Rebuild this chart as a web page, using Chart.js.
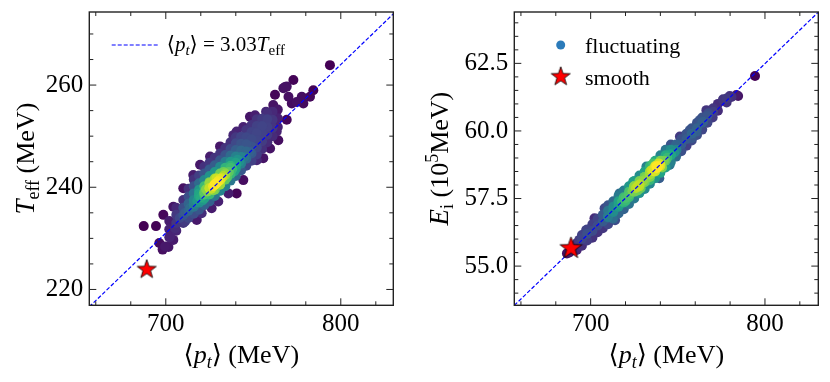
<!DOCTYPE html>
<html>
<head>
<meta charset="utf-8"/>
<title>pt vs Teff / Ei</title>
<script src="https://cdn.jsdelivr.net/npm/chart.js"></script>
<style>
    html, body { margin: 0; padding: 0; background: #fff; }
    #wrap { position: relative; width: 830px; height: 382px; }
    canvas { position: absolute; top: 0; }
    #left { left: 0; }
    #right { left: 415px; }
</style>
</head>
<body>
<div id="wrap">
    <canvas id="left" width="415" height="382"></canvas>
    <canvas id="right" width="415" height="382"></canvas>
</div>
<script>
// ---- data ----
const ptRangeLeft = [656.3, 830];
const teffRange = [216.9, 274.3];
const ptRangeRight = [656.2, 830.6];
const eiRange = [53.55, 64.4];

const leftXMajor = [700, 800];
const leftXMinor = [660, 680, 720, 740, 760, 780, 820];
const leftYMajor = [220, 240, 260];
const leftYMinor = [225, 230, 235, 245, 250, 255, 265, 270];
const rightXMajor = [700, 800];
const rightXMinor = [660, 680, 720, 740, 760, 780, 820];
const rightYMajor = [55, 57.5, 60, 62.5];
const rightYMinor = [54, 54.5, 55.5, 56, 56.5, 57, 58, 58.5, 59, 59.5, 60.5, 61, 61.5, 62, 63, 63.5, 64];

const slopeTeff = 3.03;            // <pt> = 3.03 Teff
const eiLine = [0.0622, 12.73];    // Ei = a*pt + b (dashed guide, right)

const smoothLeft = [689.1, 223.9];
const smoothRight = [688.7, 55.66];

// fluctuating events, left panel (<pt>, Teff)
const leftEdge = [
    [687.4,232.4],[694.4,232.4],[696.3,229.1],[698.6,234.6],[699.6,228.4],[698.2,227.8],[701.5,228.3],
    [702.4,230.3],[704.3,229.7],[704.3,236.2],[705.3,232],[710,239.8],[711,233.3],[715.7,242.4],
    [717.7,233.6],[719.6,244.4],[720.5,234.9],[725.3,246],[726.2,235.9],[730,237.2],[731,248],
    [735.8,238.8],[738.6,250.2],[740.5,238.8],[740.5,250.9],[744.3,241.4],[744.3,251.8],[748.1,253.8],
    [751,254.1],[752,245.3],[755.7,245.7],[757.3,254.8],[759.6,247.6],[761.4,256.1],[762.4,258.1],
    [763.4,250.9],[764.3,249.2],[767.2,259.4],[768.1,259.6],[769.1,259.7],[769.1,253.2],[770.1,257.7],
    [772,256.4],[772.9,261],[774.8,256.7],[777.7,257.7],[778.6,256.4],[782.4,257.7],[784.3,259],[793.8,263.9]
];
const leftBody = [
    [702,230.2],[702,231.8],[702,233.4],
    [706,231.5],[706,233],[706,234.6],[706,236],
    [710,233],[710,234.5],[710,236],[710,237.5],
    [713,234],[713,235.4],[713,236.8],[713,238.2],[713,239.7],
    [716,234.8],[716,236.2],[716,237.5],[716,238.8],[716,240.2],[716,241.5],
    [719,235.6],[719,237],[719,238.3],[719,239.5],[719,240.8],[719,242.3],
    [722,236.5],[722,237.8],[722,239],[722,240.2],[722,241.4],[722,242.7],[722,244],
    [725,237.2],[725,238.6],[725,239.8],[725,241],[725,242.2],[725,243.5],[725,244.8],
    [728,238.3],[728,239.5],[728,240.6],[728,241.7],[728,243],[728,244.3],[728,245.8],
    [731,239.3],[731,240.5],[731,241.6],[731,242.7],[731,244],[731,245.3],[731,246.6],
    [734,240.2],[734,241.5],[734,242.7],[734,243.8],[734,245],[734,246.3],[734,247.7],
    [737,241.3],[737,242.6],[737,243.8],[737,245],[737,246.2],[737,247.5],[737,248.8],
    [740,242.2],[740,243.6],[740,244.8],[740,246],[740,247.3],[740,248.6],[740,249.8],
    [743,243.3],[743,244.6],[743,245.9],[743,247.2],[743,248.5],[743,249.9],
    [746,244.2],[746,245.6],[746,247],[746,248.4],[746,249.8],[746,251.2],
    [749,245.2],[749,246.6],[749,248],[749,249.4],[749,250.8],[749,252.2],
    [752,246.4],[752,247.8],[752,249.2],[752,250.6],[752,252],[752,253.3],
    [755,247.5],[755,249],[755,250.5],[755,252],[755,253.4],
    [758,248.8],[758,250.3],[758,251.8],[758,253.3],[758,254.5],
    [761,250],[761,251.6],[761,253.2],[761,254.8],
    [764,251.8],[764,253.5],[764,255.2]
];
const leftCore = [
    [708,234.0],[711,235.0],[714,236.0],[716,236.7],[718,237.3],[720,238.0],[722,238.6],[724,239.2],
    [725,239.8],[726,239.7],[727,240.2],[728,240.5],[729,240.8],[730,241.2],[731,241.4],[732,241.8],
    [733,242.2],[734,242.4],[736,243.0],[738,243.6],[740,244.3],[742,245.0],[745,245.9],[748,246.9],
    [719,238.8],[721,237.4],[723,239.6],[725,240.8],[727,239.4],[729,241.7],[731,240.6],[733,243.0],
    [735,241.9],[737,244.2],[739,243.1],[741,245.4]
];

// fluctuating events, right panel (<pt>, Ei in 1e5 MeV)
const rightEdge = [
    [686.4,55.47],[687.8,55.5],[690.5,55.6],[693.5,55.97],[697.4,56.33],[702.2,56.77],[708,57.14],
    [712.5,56.77],[714,56.7],[716.6,57.69],[720.1,57.44],[724.4,58.12],[728.7,57.88],[732,58.68],
    [733.9,58.18],[735.9,58.8],[737.8,58.68],[739.4,58.25],[743.5,59.29],[745.3,58.74],[749.2,59.29],
    [751.2,59.79],[756.9,60.03],[757.9,59.73],[760.7,59.97],[762.6,60.4],[764.5,60.34],[766.4,60.77],
    [767.4,60.65],[770.3,60.84],[770.3,60.71],[776,61.14],[776,61.17],[779.8,61.29],[780.8,61.26],
    [783.6,61.33],[784.6,61.29],[794.3,62.03]
];
const rightBody = [
    [692,55.6],[692,55.85],
    [695,55.75],[695,56.0],[695,56.15],
    [698,55.95],[698,56.2],[698,56.35],
    [701,56.05],[701,56.3],[701,56.55],
    [704,56.25],[704,56.5],[704,56.75],
    [707,56.4],[707,56.65],[707,56.9],
    [710,56.55],[710,56.8],[710,57.05],[710,57.25],
    [713,56.75],[713,57.0],[713,57.2],[713,57.4],
    [716,56.95],[716,57.2],[716,57.4],[716,57.6],
    [719,57.1],[719,57.35],[719,57.55],[719,57.8],
    [722,57.3],[722,57.55],[722,57.75],[722,57.95],
    [725,57.5],[725,57.75],[725,57.95],[725,58.15],
    [728,57.7],[728,57.95],[728,58.15],[728,58.35],
    [731,57.85],[731,58.1],[731,58.3],[731,58.5],
    [734,58.05],[734,58.3],[734,58.5],[734,58.7],
    [737,58.25],[737,58.5],[737,58.7],[737,58.9],
    [740,58.45],[740,58.7],[740,58.9],[740,59.1],
    [743,58.65],[743,58.9],[743,59.1],[743,59.3],
    [746,58.85],[746,59.1],[746,59.3],[746,59.5],
    [749,59.05],[749,59.3],[749,59.5],
    [752,59.25],[752,59.5],[752,59.7],
    [755,59.45],[755,59.7],[755,59.9],
    [758,59.65],[758,59.9],[758,60.1],
    [761,59.85],[761,60.1],[761,60.3],
    [764,60.05],[764,60.3],[764,60.5],
    [767,60.3],[767,60.55],
    [770,60.5],
    [773,60.75],[773,61.0],
    [778,61.05],[778,61.2]
];
const rightCore = [
    [716,57.27],[718,57.39],[720,57.52],[722,57.64],[724,57.77],[726,57.89],[727,57.95],[728,58.02],
    [730,58.14],[732,58.26],[734,58.39],[736,58.51],[738,58.63],[739,58.7],[740,58.76],[742,58.89],
    [744,59.01],[746,59.14],[725,57.95],[727,57.8],[739,58.8],[741,58.65],[720,57.4],[735,58.55],
    [731,58.3],[748,59.2],[713,57.05],[710,56.85]
];

// ---- styling helpers ----
const SERIF = '"Liberation Serif", "DejaVu Serif", serif';
const fnt = (size, italic) => (italic ? 'italic ' : '') + size + 'px ' + SERIF;
const VIR = ['#440154','#482475','#414487','#355f8d','#2a788e','#21918c','#22a884','#44bf70','#7ad151','#bddf26','#fde725'];

function hexRgb(h) {
    return [parseInt(h.slice(1, 3), 16), parseInt(h.slice(3, 5), 16), parseInt(h.slice(5, 7), 16)];
}
function viridis(t) {
    t = Math.max(0, Math.min(1, t));
    const i = Math.min(9, Math.floor(t * 10));
    const u = t * 10 - i;
    const a = hexRgb(VIR[i]), b = hexRgb(VIR[i + 1]);
    return 'rgb(' + a.map((v, k) => Math.round(v + (b[k] - v) * u)).join(',') + ')';
}

// gaussian kde in pixel space -> colour + draw order (densest last)
function densityOrder(points, sx, sy, bw) {
    const d = points.map(p => points.reduce((s, q) => {
        const dx = (p[0] - q[0]) * sx, dy = (p[1] - q[1]) * sy;
        return s + Math.exp(-(dx * dx + dy * dy) / (2 * bw * bw));
    }, 0));
    const lo = Math.min(...d), hi = Math.max(...d);
    const idx = points.map((_, i) => i).sort((a, b) => d[a] - d[b]);
    return {
        data: idx.map(i => ({x: points[i][0], y: points[i][1]})),
        colors: idx.map(i => viridis(Math.pow((d[i] - lo) / (hi - lo), 1.6)))
    };
}

function starCanvas(r) {
    const s = Math.ceil(2 * r + 4);
    const c = document.createElement('canvas');
    c.width = c.height = s;
    const g = c.getContext('2d');
    g.translate(s / 2, s / 2);
    g.beginPath();
    for (let i = 0; i < 10; i++) {
        const rr = i % 2 ? r * 0.4 : r;
        const a = -Math.PI / 2 + i * Math.PI / 5;
        g.lineTo(rr * Math.cos(a), rr * Math.sin(a));
    }
    g.closePath();
    g.fillStyle = '#ff0000';
    g.fill();
    g.lineWidth = 0.8;
    g.strokeStyle = '#000';
    g.stroke();
    return c;
}
const STAR = starCanvas(10);
const STAR_BIG = starCanvas(11.5);

// draw a run of text pieces (italic / sub / superscript); align 'center' or 'left'
function rich(ctx, segs, x, y, align) {
    let w = 0;
    segs.forEach(s => { ctx.font = s.font; w += ctx.measureText(s.t).width; });
    let cx = align === 'left' ? x : x - w / 2;
    segs.forEach(s => {
        ctx.font = s.font;
        ctx.fillText(s.t, cx, y + (s.dy || 0));
        cx += ctx.measureText(s.t).width;
    });
}

function decor(cfg) {
    return {
        id: 'decor',
        afterDraw(chart) {
            const {ctx, chartArea: a, scales: {x, y}} = chart;
            ctx.save();
            ctx.strokeStyle = '#222';
            ctx.lineWidth = 1;
            ctx.beginPath();
            const xt = (v, len) => {
                const p = x.getPixelForValue(v);
                ctx.moveTo(p, a.bottom); ctx.lineTo(p, a.bottom - len);
                ctx.moveTo(p, a.top); ctx.lineTo(p, a.top + len);
            };
            const yt = (v, len) => {
                const p = y.getPixelForValue(v);
                ctx.moveTo(a.left, p); ctx.lineTo(a.left + len, p);
                ctx.moveTo(a.right, p); ctx.lineTo(a.right - len, p);
            };
            cfg.xMajor.forEach(v => xt(v, 7));
            cfg.xMinor.forEach(v => xt(v, 4));
            cfg.yMajor.forEach(v => yt(v, 7));
            cfg.yMinor.forEach(v => yt(v, 4));
            ctx.stroke();
            ctx.lineWidth = 1.4;
            ctx.strokeRect(a.left, a.top, a.width, a.height);

            ctx.fillStyle = '#000';
            ctx.textBaseline = 'alphabetic';
            rich(ctx, [
                {t: '\u27e8', font: fnt(26)},
                {t: 'p', font: fnt(26, true)},
                {t: 't', font: fnt(18, true), dy: 5},
                {t: '\u27e9 (MeV)', font: fnt(26)}
            ], (a.left + a.right) / 2, 363, 'center');

            ctx.save();
            ctx.translate(cfg.yTitleX, (a.top + a.bottom) / 2);
            ctx.rotate(-Math.PI / 2);
            rich(ctx, cfg.yTitle, 0, 0, 'center');
            ctx.restore();

            cfg.legend(ctx);
            ctx.restore();
        }
    };
}

function makeChart(id, cfg) {
    const plotW = 304, plotH = 293.3;
    const dens = densityOrder(cfg.points,
        plotW / (cfg.xr[1] - cfg.xr[0]), plotH / (cfg.yr[1] - cfg.yr[0]), 7);
    const tickFont = {family: SERIF, size: 25};
    return new Chart(document.getElementById(id), {
        type: 'scatter',
        data: {
            datasets: [
                {data: [{x: cfg.star[0], y: cfg.star[1]}], pointStyle: cfg.starImg, pointRadius: 10, order: 0},
                {data: cfg.line, showLine: true, borderColor: '#0000ff', borderWidth: 1.2,
                 borderDash: [4, 2], pointRadius: 0, order: 1},
                {data: dens.data, pointBackgroundColor: dens.colors, pointBorderWidth: 0,
                 pointBorderColor: 'rgba(0,0,0,0)', pointRadius: 5, order: 2}
            ]
        },
        options: {
            responsive: false,
            animation: false,
            events: [],
            layout: {padding: {left: 0, top: 12, right: cfg.padRight, bottom: 0}},
            plugins: {legend: {display: false}, tooltip: {enabled: false}},
            scales: {
                x: {
                    type: 'linear', min: cfg.xr[0], max: cfg.xr[1],
                    grid: {display: false, drawTicks: false}, border: {display: false},
                    ticks: {font: tickFont, color: '#000', padding: 4, maxRotation: 0},
                    afterBuildTicks: s => { s.ticks = cfg.xMajor.map(v => ({value: v})); },
                    afterFit: s => { s.height = 76.7; s.paddingLeft = 0; s.paddingRight = 0; }
                },
                y: {
                    type: 'linear', min: cfg.yr[0], max: cfg.yr[1],
                    grid: {display: false, drawTicks: false}, border: {display: false},
                    ticks: {font: tickFont, color: '#000', padding: 6, callback: cfg.yFmt},
                    afterBuildTicks: s => { s.ticks = cfg.yMajor.map(v => ({value: v})); },
                    afterFit: s => { s.width = cfg.yWidth; s.paddingTop = 0; s.paddingBottom = 0; }
                }
            }
        },
        plugins: [decor(cfg)]
    });
}

makeChart('left', {
    points: leftEdge.concat(leftBody, leftCore),
    xr: ptRangeLeft, yr: teffRange,
    xMajor: leftXMajor, xMinor: leftXMinor, yMajor: leftYMajor, yMinor: leftYMinor,
    star: smoothLeft, starImg: STAR,
    line: ptRangeLeft.map(v => ({x: v, y: v / slopeTeff})),
    padRight: 21.7, yWidth: 89.3,
    yFmt: v => String(v),
    yTitleX: 34,
    yTitle: [
        {t: 'T', font: fnt(27, true)},
        {t: 'eff', font: fnt(18), dy: 5},
        {t: ' (MeV)', font: fnt(26)}
    ],
    legend(ctx) {
        ctx.save();
        ctx.strokeStyle = '#0000ff';
        ctx.lineWidth = 1.2;
        ctx.setLineDash([4, 2]);
        ctx.beginPath();
        ctx.moveTo(111.7, 45); ctx.lineTo(158.3, 45);
        ctx.stroke();
        ctx.restore();
        rich(ctx, [
            {t: '\u27e8', font: fnt(21)},
            {t: 'p', font: fnt(21, true)},
            {t: 't', font: fnt(15, true), dy: 4},
            {t: '\u27e9 = 3.03', font: fnt(21)},
            {t: 'T', font: fnt(21, true)},
            {t: 'eff', font: fnt(15), dy: 4}
        ], 166.7, 51, 'left');
    }
});

makeChart('right', {
    points: rightEdge.concat(rightBody, rightCore),
    xr: ptRangeRight, yr: eiRange,
    xMajor: rightXMajor, xMinor: rightXMinor, yMajor: rightYMajor, yMinor: rightYMinor,
    star: smoothRight, starImg: STAR_BIG,
    line: ptRangeRight.map(v => ({x: v, y: eiLine[0] * v + eiLine[1]})),
    padRight: 11.7, yWidth: 99.3,
    yFmt: v => v.toFixed(1),
    yTitleX: 33,
    yTitle: [
        {t: 'E', font: fnt(27, true)},
        {t: 'i', font: fnt(18), dy: 5},
        {t: ' (10', font: fnt(26)},
        {t: '5', font: fnt(18), dy: -10},
        {t: 'MeV)', font: fnt(26)}
    ],
    legend(ctx) {
        ctx.fillStyle = '#2b7bba';
        ctx.beginPath();
        ctx.arc(145.7, 45, 4.5, 0, Math.PI * 2);
        ctx.fill();
        ctx.drawImage(STAR, 145.7 - STAR.width / 2, 76.7 - STAR.height / 2);
        ctx.fillStyle = '#000';
        ctx.font = fnt(22);
        ctx.fillText('fluctuating', 170, 53);
        ctx.fillText('smooth', 170, 85);
    }
});
</script>
</body>
</html>
